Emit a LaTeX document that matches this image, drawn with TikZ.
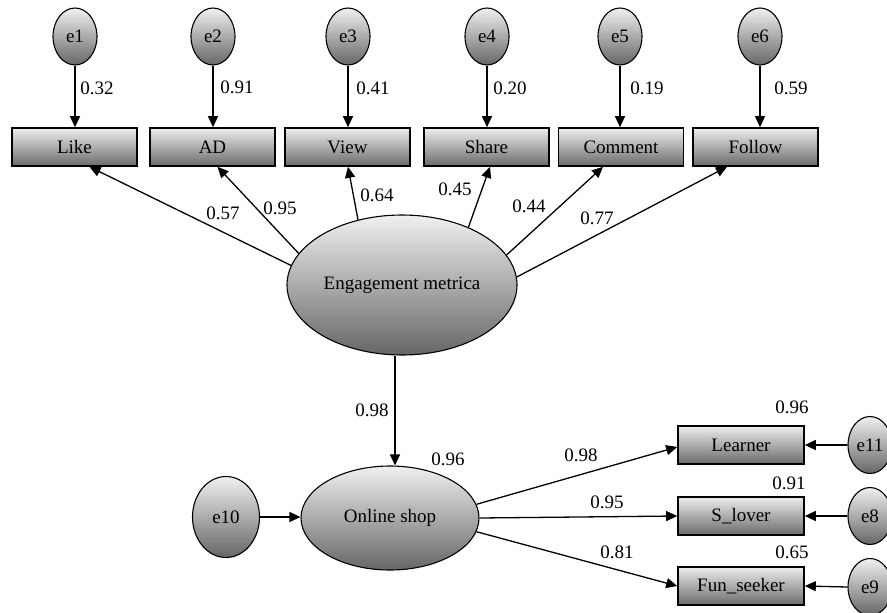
\documentclass[tikz,border=0pt]{standalone}
\usepackage{fontspec}
\setmainfont{Liberation Serif}
\usetikzlibrary{shapes.geometric,arrows.meta,calc}
\begin{document}
\begin{tikzpicture}[x=1pt,y=-1pt,
  every node/.style={font=\fontsize{19}{21}\selectfont},
  arr/.style={line width=1.3pt,-{Triangle[length=11pt,width=10pt]}},
  obs/.style={draw, line width=1.6pt, minimum width=125pt, minimum height=38pt, top color=black!7, bottom color=black!58, inner sep=0pt},
  lat/.style={ellipse, draw, line width=1.1pt, top color=black!6, bottom color=black!60, inner sep=0pt},
  err/.style={lat, minimum width=44pt, minimum height=57pt},
  lab/.style={inner sep=0pt}]
\useasboundingbox (0,0) rectangle (887,613);
% observed indicators
\node[obs] (Like) at (74.5,147) {Like};
\node[obs] (AD) at (212.5,147) {AD};
\node[obs] (View) at (347.5,147) {View};
\node[obs] (Share) at (486.5,147) {Share};
\node[obs] (Comment) at (621,147) {Comment};
\node[obs] (Follow) at (755.5,147) {Follow};
% errors
\node[err] (e1) at (75,36.5) {e1};
\node[err] (e2) at (213,36.5) {e2};
\node[err] (e3) at (348,36.5) {e3};
\node[err] (e4) at (487,36.5) {e4};
\node[err] (e5) at (620,36.5) {e5};
\node[err] (e6) at (760,36.5) {e6};
\foreach \i/\b in {1/Like,2/AD,3/View,4/Share,5/Comment,6/Follow}
  \draw[arr] (e\i.south) -- (e\i.south |- \b.north);
\node[lab] (l1) at (97,88) {0.32};
\node[lab] (l2) at (237,87) {0.91};
\node[lab] (l3) at (373,88) {0.41};
\node[lab] (l4) at (510,88) {0.20};
\node[lab] (l5) at (647,88) {0.19};
\node[lab] (l6) at (791,88) {0.59};
% latent
\node[lat, minimum width=230pt, minimum height=140pt] (EM) at (402,285) {Engagement metrica};
\draw[arr] (EM.170.6) -- ($(Like.south)+(15,0)$);
\draw[arr] (EM.163) -- ($(AD.south)+(5,0)$);
\draw[arr] (EM.124.7) -- ($(View.south)+(0.5,0)$);
\draw[arr] (EM.41.2) -- ($(Share.south)+(3.5,0)$);
\draw[arr] (EM.16.2) -- ($(Comment.south)+(-18,0)$);
\draw[arr] (EM.4.1) -- ($(Follow.south)+(-28.5,0)$);
\node[lab] (m1) at (223,213) {0.57};
\node[lab] (m2) at (280,208) {0.95};
\node[lab] (m3) at (377,195) {0.64};
\node[lab] (m4) at (455,189) {0.45};
\node[lab] (m5) at (529,206) {0.44};
\node[lab] (m6) at (597,218) {0.77};
% online shop
\node[lat, minimum width=178pt, minimum height=104pt] (OS) at (390,518) {Online shop};
\coordinate (top) at ($(EM.south)+(-7,0)$);
\draw[arr] (top) -- (top |- OS.north);
\node[lab] (s1) at (372,410) {0.98};
\node[lab] (s2) at (448,459) {0.96};
\node[lat, minimum width=67pt, minimum height=81pt] (e10) at (226,517) {e10};
\draw[arr] (e10.east) -- (OS.west |- e10.east);
% right indicators
\node[obs, minimum width=126pt] (Learner) at (741,445) {Learner};
\node[obs, minimum width=126pt] (Slover) at (741,516) {S\_lover};
\node[obs, minimum width=126pt] (Fun) at (741,586) {Fun\_seeker};
\node[err] (e11) at (870,445) {e11};
\node[err] (e8) at (870,516) {e8};
\node[err] (e9) at (870,587) {e9};
\draw[arr] (e11.west) -- (Learner.east);
\draw[arr] (e8.west) -- (Slover.east);
\draw[arr] (e9.west) -- (Fun.east);
\draw[arr] (OS.9.8) -- ($(Learner.west)+(0,2)$);
\draw[arr] (OS.east) -- (Slover.west);
\draw[arr] (OS.-9.8) -- (Fun.west);
\node[lab] (r1) at (581,455) {0.98};
\node[lab] (r2) at (607,502) {0.95};
\node[lab] (r3) at (617,552) {0.81};
\node[lab] (r4) at (792,407) {0.96};
\node[lab] (r5) at (789,483) {0.91};
\node[lab] (r6) at (792,552) {0.65};
\end{tikzpicture}
\end{document}
